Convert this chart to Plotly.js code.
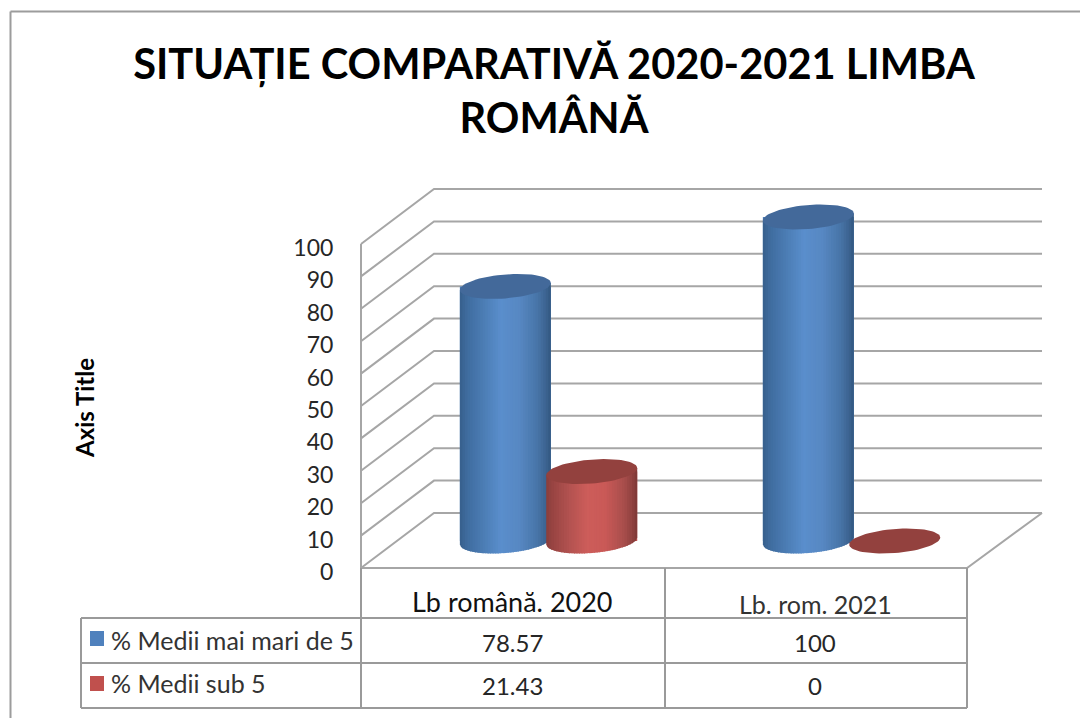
<!DOCTYPE html>
<html><head><meta charset="utf-8">
<script src="https://cdn.plot.ly/plotly-3.0.1.min.js"></script>
<style>html,body{margin:0;padding:0;background:#fff}#c{width:1080px;height:718px}</style>
</head><body><div id="c"></div>
<script>
const categories = ['Lb română. 2020', 'Lb. rom. 2021'];
const seriesNames = ['% Medii mai mari de 5', '% Medii sub 5'];
const blueValues = [78.57, 100];
const redValues = [21.43, 0];
const blueLabels = ['78.57', '100'];
const redLabels = ['21.43', '0'];
const yTicks = [0,10,20,30,40,50,60,70,80,90,100];
const chartTitle = 'SITUAȚIE COMPARATIVĂ 2020-2021 LIMBA<br>ROMÂNĂ';

// page geometry
const W=1080,H=718, PX0=361, PY0=568, SX=303, SY=3.24;
const L=355,R=1046,T=181,B=634;
const xr=[(L-PX0)/SX,(R-PX0)/SX], yr=[(PY0-B)/SY,(PY0-T)/SY];
const px=p=>(p-L)/(R-L), py=p=>(B-p)/(B-T);
const dx=73/SX, dy=55/SY, xEnd=(1042-PX0)/SX;
const baseY=27/SY, a=45.5/SX, b=12/SY, k=3.5/SY;
const offs=[-0.144,0.141];

const blueStops=[[0,'#375f8c'],[.08,'#3f6c9f'],[.25,'#4b7cb3'],[.45,'#5a8ecc'],[.65,'#5788c3'],[.85,'#4875a8'],[.95,'#3c6390'],[1,'#33577f']];
const redStops=[[0,'#8a3e3c'],[.08,'#9a4543'],[.25,'#b25250'],[.45,'#cd5d5a'],[.65,'#c95957'],[.85,'#a94e4c'],[.95,'#8f413f'],[1,'#7c3836']];
function hex(c){return [1,3,5].map(i=>parseInt(c.substr(i,2),16));}
function grad(st,t){for(let i=1;i<st.length;i++){if(t<=st[i][0]){const f=(t-st[i-1][0])/(st[i][0]-st[i-1][0]);const A=hex(st[i-1][1]),C=hex(st[i][1]);return 'rgb('+A.map((v,j)=>Math.round(v+(C[j]-v)*f)).join(',')+')';}}return st[st.length-1][1];}

const traces=[];
function cx(cat,s){return cat+0.5+dx/2+offs[s];}
// real bars: the cylinder bodies
[blueValues,redValues].forEach((vals,s)=>{
  traces.push({type:'bar',name:seriesNames[s],x:vals.map((v,i)=>cx(i,s)),y:vals,base:vals.map(()=>baseY),
    width:vals.map(()=>2*a),marker:{color:s?'#c0504d':'#4f81bd',line:{width:0}},showlegend:false,hoverinfo:'y+name'});
});
function cylinder(c,v,stops,capColor){
  const N=36, top=baseY+v;
  if(v>0){for(let i=0;i<N;i++){
    const u0=-1+2*i/N, u1=Math.min(1,-1+2*(i+1.35)/N);
    const xs=[],ys=[];
    xs.push(c+a*u0);ys.push(top+k*u0);
    xs.push(c+a*u1);ys.push(top+k*u1);
    for(let j=0;j<=3;j++){const u=u1+(u0-u1)*j/3;xs.push(c+a*u);ys.push(baseY+k*u-b*Math.sqrt(Math.max(0,1-u*u)));}
    traces.push({type:'scatter',mode:'lines',x:xs,y:ys,fill:'toself',fillcolor:grad(stops,(i+.5)/N),line:{width:0},hoverinfo:'skip',showlegend:false});
  }}
  const xs=[],ys=[];
  for(let j=0;j<=72;j++){const t=j/72*2*Math.PI;xs.push(c+a*Math.cos(t));ys.push(top+b*Math.sin(t)+k*Math.cos(t));}
  traces.push({type:'scatter',mode:'lines',x:xs,y:ys,fill:'toself',fillcolor:capColor,line:{width:0},hoverinfo:'skip',showlegend:false});
}
categories.forEach((_,i)=>{
  cylinder(cx(i,0),blueValues[i],blueStops,'#43699a');
  cylinder(cx(i,1),redValues[i],redStops,'#93413e');
});

const gridCol='#a6a6a6', tblCol='#9a9a9a';
const shapes=[];
yTicks.forEach(v=>{
  shapes.push({type:'path',xref:'x',yref:'y',layer:'below',path:`M0,${v} L${dx},${v+dy} L${xEnd},${v+dy}`,line:{color:gridCol,width:2}});
});
// floor
shapes.push({type:'path',xref:'x',yref:'y',layer:'below',path:`M${xEnd},${dy} L2,0 L0,0`,line:{color:gridCol,width:2}});
// axis line
shapes.push({type:'line',xref:'x',yref:'y',layer:'below',x0:0,x1:0,y0:0,y1:100,line:{color:gridCol,width:2}});
function pl(x0,y0,x1,y1,c,w){shapes.push({type:'line',xref:'paper',yref:'paper',x0:px(x0),x1:px(x1),y0:py(y0),y1:py(y1),line:{color:c,width:w}});}
// outer frame
pl(10.5,11.5,1080,11.5,'#9c9c9c',2);
pl(10.5,11.5,10.5,718,'#9c9c9c',2);
// data table
[618,663,708].forEach(y=>pl(81,y,967,y,tblCol,2));
pl(81,618,81,708,tblCol,2);
pl(361,568,361,708,tblCol,2);
pl(665,568,665,708,tblCol,2);
pl(967,568,967,708,tblCol,2);
// legend keys
[[631,646,'#4f81bd'],[676,691,'#c0504d']].forEach(r=>shapes.push({type:'rect',xref:'paper',yref:'paper',x0:px(90),x1:px(104),y0:py(r[1]),y1:py(r[0]),fillcolor:r[2],line:{width:0}}));

const ann=[];
function txt(t,x,y,size,col,anchor){ann.push({text:t,xref:'paper',yref:'paper',x:px(x),y:py(y),xanchor:anchor||'center',yanchor:'middle',showarrow:false,font:{family:'Lato, Carlito, sans-serif',size:size,color:col||'#262626'}});}
txt(categories[0],512.5,601,27,'#111');
txt(categories[1],815,604,25,'#333');
txt(seriesNames[0],109,640,25,'#333','left');
txt(seriesNames[1],109,683,25,'#333','left');
[blueLabels,redLabels].forEach((arr,r)=>arr.forEach((t,i)=>txt(t,[512,815][i],[642,685][r],24,'#262626')));

Plotly.newPlot('c',traces,{
  width:W,height:H,margin:{l:L,r:W-R,t:T,b:H-B,pad:0},
  paper_bgcolor:'#fff',plot_bgcolor:'rgba(0,0,0,0)',barmode:'overlay',showlegend:false,
  title:{text:chartTitle,x:554/W,xanchor:'center',xref:'container',y:1-79/H,yanchor:'top',font:{family:'Lato, Carlito, sans-serif',size:41.6,color:'#000',weight:700}},
  xaxis:{range:xr,visible:false,fixedrange:true},
  yaxis:{range:yr,tickmode:'array',tickvals:yTicks,ticktext:yTicks.map(String),showgrid:false,zeroline:false,showline:false,
    ticks:'outside',ticklen:16,tickcolor:'rgba(0,0,0,0)',ticklabelshift:4,tickfont:{family:'Lato, Carlito, sans-serif',size:23,color:'#262626'},
    automargin:false,title:{text:'Axis Title',standoff:191,font:{family:'Lato, Carlito, sans-serif',size:24,color:'#000',weight:700}},fixedrange:true},
  shapes:shapes,annotations:ann
},{displayModeBar:false,staticPlot:true});
</script></body></html>
